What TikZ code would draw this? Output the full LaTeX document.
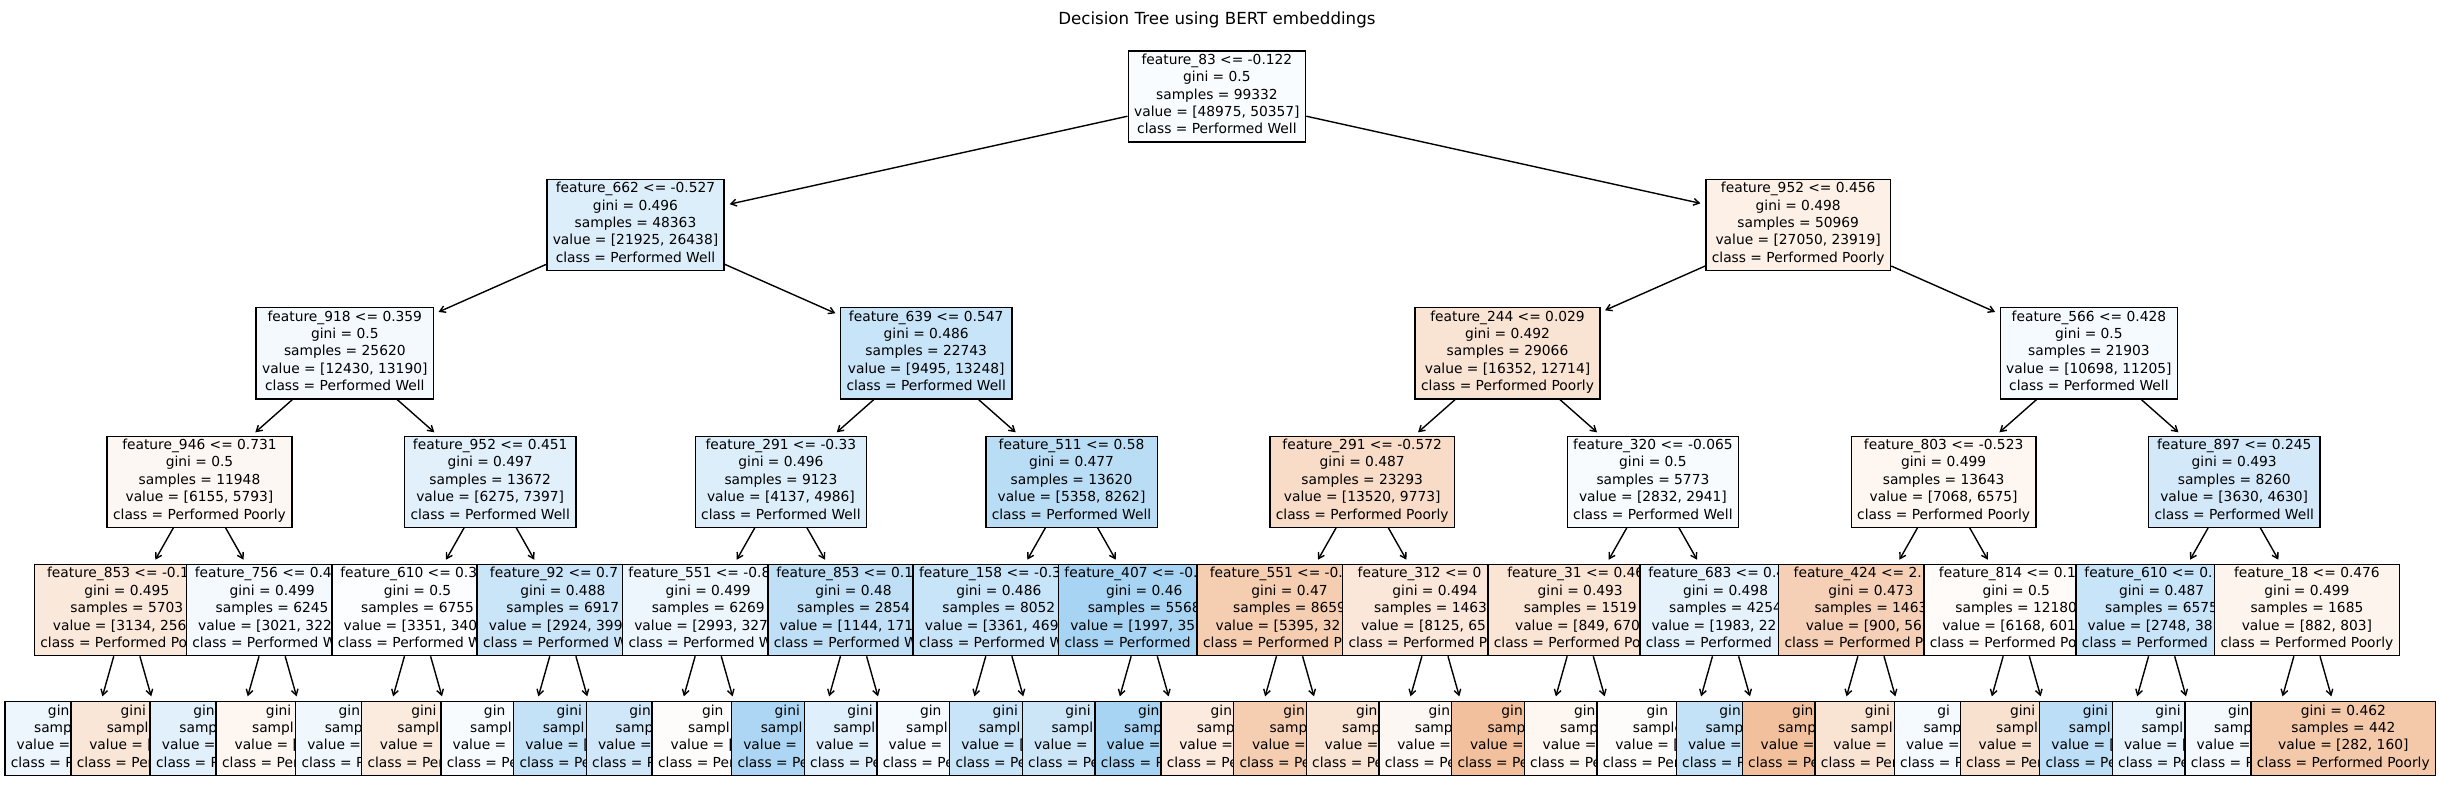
\documentclass[tikz,border=0pt]{standalone}
\usepackage{fontspec}
\setmainfont{DejaVu Sans}
\usepackage{tikz}
\usetikzlibrary{arrows.meta}
\definecolor{wellc}{RGB}{57,157,229}
\definecolor{poorc}{RGB}{229,129,57}
\newcommand{\partline}[2]{\rlap{#1}\phantom{#2}}
\newcommand{\leaflines}[5]{\partline{#1}{gini = 0.000}\\\partline{#2}{samples = 0000}\\\partline{#3}{value = [0000, 0000]}\\\partline{#4}{class = Performed #5}}

\begin{document}
\begin{tikzpicture}[x=0.5pt, y=-0.5pt,
    treebox/.style={draw, line width=0.7pt, align=center, inner xsep=3pt, inner ysep=1pt,
        font=\fontsize{6.9}{8.7}\selectfont, execute at begin node=\strut, execute at end node=\strut},
    splitbox/.style={treebox, minimum height=45.5pt},
    leafbox/.style={treebox, minimum height=36.8pt},
    branch/.style={line width=0.7pt, -{Straight Barb[length=2.8pt,width=3.4pt]}, shorten >=2.4pt}]
    \useasboundingbox (0,0) rectangle (2439,812);
    \node[font=\fontsize{8.33}{10}\selectfont, anchor=base] (title) at (1216.9,25) {Decision Tree using BERT embeddings};

    \node[splitbox, fill=wellc!3!white] (n1) at (1216.9,96.5) {feature\_83 <= -0.122\\gini = 0.5\\samples = 99332\\value = [48975, 50357]\\class = Performed Well};

    \node[splitbox, fill=wellc!17!white] (n2) at (635.5,224.9) {feature\_662 <= -0.527\\gini = 0.496\\samples = 48363\\value = [21925, 26438]\\class = Performed Well};
    \node[splitbox, fill=poorc!12!white] (n3) at (1798.2,224.9) {feature\_952 <= 0.456\\gini = 0.498\\samples = 50969\\value = [27050, 23919]\\class = Performed Poorly};

    \node[splitbox, fill=wellc!6!white] (n4) at (344.8,353.3) {feature\_918 <= 0.359\\gini = 0.5\\samples = 25620\\value = [12430, 13190]\\class = Performed Well};
    \node[splitbox, fill=wellc!28!white] (n5) at (926.2,353.3) {feature\_639 <= 0.547\\gini = 0.486\\samples = 22743\\value = [9495, 13248]\\class = Performed Well};
    \node[splitbox, fill=poorc!22!white] (n6) at (1507.5,353.3) {feature\_244 <= 0.029\\gini = 0.492\\samples = 29066\\value = [16352, 12714]\\class = Performed Poorly};
    \node[splitbox, fill=wellc!5!white] (n7) at (2088.9,353.3) {feature\_566 <= 0.428\\gini = 0.5\\samples = 21903\\value = [10698, 11205]\\class = Performed Well};

    \node[splitbox, fill=poorc!6!white] (n8) at (199.5,481.7) {feature\_946 <= 0.731\\gini = 0.5\\samples = 11948\\value = [6155, 5793]\\class = Performed Poorly};
    \node[splitbox, fill=wellc!15!white] (n9) at (490.2,481.7) {feature\_952 <= 0.451\\gini = 0.497\\samples = 13672\\value = [6275, 7397]\\class = Performed Well};
    \node[splitbox, fill=wellc!17!white] (n10) at (780.9,481.7) {feature\_291 <= -0.33\\gini = 0.496\\samples = 9123\\value = [4137, 4986]\\class = Performed Well};
    \node[splitbox, fill=wellc!35!white] (n11) at (1071.5,481.7) {feature\_511 <= 0.58\\gini = 0.477\\samples = 13620\\value = [5358, 8262]\\class = Performed Well};
    \node[splitbox, fill=poorc!28!white] (n12) at (1362.2,481.7) {feature\_291 <= -0.572\\gini = 0.487\\samples = 23293\\value = [13520, 9773]\\class = Performed Poorly};
    \node[splitbox, fill=wellc!4!white] (n13) at (1652.9,481.7) {feature\_320 <= -0.065\\gini = 0.5\\samples = 5773\\value = [2832, 2941]\\class = Performed Well};
    \node[splitbox, fill=poorc!7!white] (n14) at (1943.6,481.7) {feature\_803 <= -0.523\\gini = 0.499\\samples = 13643\\value = [7068, 6575]\\class = Performed Poorly};
    \node[splitbox, fill=wellc!22!white] (n15) at (2234.2,481.7) {feature\_897 <= 0.245\\gini = 0.493\\samples = 8260\\value = [3630, 4630]\\class = Performed Well};

    \node[splitbox, fill=poorc!18!white] (n16) at (126.8,610.1) {\partline{feature\_853 <= -0.1}{feature\_853 <= -0.100}\\gini = 0.495\\samples = 5703\\\partline{value = [3134, 256}{value = [3134, 2569]}\\\partline{class = Performed Po}{class = Performed Poorly}};
    \node[splitbox, fill=wellc!6!white] (n17) at (272.1,610.1) {\partline{feature\_756 <= 0.4}{feature\_756 <= 0.400}\\gini = 0.499\\samples = 6245\\\partline{value = [3021, 322}{value = [3021, 3224]}\\\partline{class = Performed W}{class = Performed Well}};
    \node[splitbox, fill=wellc!2!white] (n18) at (417.5,610.1) {\partline{feature\_610 <= 0.3}{feature\_610 <= 0.300}\\gini = 0.5\\samples = 6755\\\partline{value = [3351, 340}{value = [3351, 3404]}\\\partline{class = Performed W}{class = Performed Well}};
    \node[splitbox, fill=wellc!27!white] (n19) at (562.8,610.1) {\partline{feature\_92 <= 0.7}{feature\_92 <= 0.700}\\gini = 0.488\\samples = 6917\\\partline{value = [2924, 399}{value = [2924, 3993]}\\\partline{class = Performed W}{class = Performed Well}};
    \node[splitbox, fill=wellc!9!white] (n20) at (708.2,610.1) {\partline{feature\_551 <= -0.8}{feature\_551 <= -0.800}\\gini = 0.499\\samples = 6269\\\partline{value = [2993, 327}{value = [2993, 3276]}\\\partline{class = Performed W}{class = Performed Well}};
    \node[splitbox, fill=wellc!33!white] (n21) at (853.5,610.1) {\partline{feature\_853 <= 0.1}{feature\_853 <= 0.100}\\gini = 0.48\\samples = 2854\\\partline{value = [1144, 171}{value = [1144, 1710]}\\\partline{class = Performed W}{class = Performed Well}};
    \node[splitbox, fill=wellc!28!white] (n22) at (998.8,610.1) {\partline{feature\_158 <= -0.3}{feature\_158 <= -0.300}\\gini = 0.486\\samples = 8052\\\partline{value = [3361, 469}{value = [3361, 4691]}\\\partline{class = Performed W}{class = Performed Well}};
    \node[splitbox, fill=wellc!44!white] (n23) at (1144.2,610.1) {\partline{feature\_407 <= -0.}{feature\_407 <= -0.000}\\gini = 0.46\\samples = 5568\\\partline{value = [1997, 35}{value = [1997, 3571]}\\\partline{class = Performed }{class = Performed Well}};
    \node[splitbox, fill=poorc!40!white] (n24) at (1289.5,610.1) {\partline{feature\_551 <= -0.}{feature\_551 <= -0.000}\\gini = 0.47\\samples = 8659\\\partline{value = [5395, 32}{value = [5395, 3264]}\\\partline{class = Performed P}{class = Performed Poorly}};
    \node[splitbox, fill=poorc!19!white] (n25) at (1434.9,610.1) {\partline{feature\_312 <= 0}{feature\_312 <= 0.000}\\gini = 0.494\\\partline{samples = 1463}{samples = 14630}\\\partline{value = [8125, 65}{value = [8125, 6505]}\\\partline{class = Performed P}{class = Performed Poorly}};
    \node[splitbox, fill=poorc!21!white] (n26) at (1580.2,610.1) {\partline{feature\_31 <= 0.46}{feature\_31 <= 0.460}\\gini = 0.493\\samples = 1519\\\partline{value = [849, 670}{value = [849, 670]}\\\partline{class = Performed Po}{class = Performed Poorly}};
    \node[splitbox, fill=wellc!13!white] (n27) at (1725.5,610.1) {\partline{feature\_683 <= 0.4}{feature\_683 <= 0.400}\\gini = 0.498\\samples = 4254\\\partline{value = [1983, 22}{value = [1983, 2271]}\\\partline{class = Performed }{class = Performed Well}};
    \node[splitbox, fill=poorc!37!white] (n28) at (1870.9,610.1) {\partline{feature\_424 <= 2.}{feature\_424 <= 2.000}\\gini = 0.473\\samples = 1463\\\partline{value = [900, 56}{value = [900, 563]}\\\partline{class = Performed P}{class = Performed Poorly}};
    \node[splitbox, fill=poorc!3!white] (n29) at (2016.2,610.1) {\partline{feature\_814 <= 0.1}{feature\_814 <= 0.100}\\gini = 0.5\\samples = 12180\\\partline{value = [6168, 601}{value = [6168, 6012]}\\\partline{class = Performed Po}{class = Performed Poorly}};
    \node[splitbox, fill=wellc!28!white] (n30) at (2161.6,610.1) {\partline{feature\_610 <= 0.}{feature\_610 <= 0.000}\\gini = 0.487\\samples = 6575\\\partline{value = [2748, 38}{value = [2748, 3827]}\\\partline{class = Performed }{class = Performed Well}};
    \node[splitbox, fill=poorc!9!white] (n31) at (2306.9,610.1) {feature\_18 <= 0.476\\gini = 0.499\\samples = 1685\\value = [882, 803]\\class = Performed Poorly};

    \node[leafbox, fill=wellc!9!white] (n32) at (90.5,738.5) {\leaflines{gin}{samp}{value =}{class = P}{Well}};
    \node[leafbox, fill=poorc!20!white] (n33) at (163.2,738.5) {\leaflines{gini}{sampl}{value = [}{class = Per}{Poorly}};
    \node[leafbox, fill=wellc!15!white] (n34) at (235.8,738.5) {\leaflines{gin}{samp}{value =}{class = P}{Well}};
    \node[leafbox, fill=poorc!7!white] (n35) at (308.5,738.5) {\leaflines{gini}{sampl}{value = [}{class = Per}{Poorly}};
    \node[leafbox, fill=wellc!7!white] (n36) at (381.2,738.5) {\leaflines{gin}{samp}{value =}{class = P}{Well}};
    \node[leafbox, fill=poorc!16!white] (n37) at (453.9,738.5) {\leaflines{gini}{sampl}{value =}{class = Per}{Poorly}};
    \node[leafbox, fill=wellc!4!white] (n38) at (526.5,738.5) {\leaflines{gin}{sampl}{value =}{class = Pe}{Well}};
    \node[leafbox, fill=wellc!30!white] (n39) at (599.2,738.5) {\leaflines{gini}{sampl}{value = [}{class = Pe}{Well}};
    \node[leafbox, fill=wellc!24!white] (n40) at (671.9,738.5) {\leaflines{gini}{samp}{value =}{class = P}{Well}};
    \node[leafbox, fill=poorc!2!white] (n41) at (744.5,738.5) {\leaflines{gin}{sampl}{value = [}{class = Per}{Poorly}};
    \node[leafbox, fill=wellc!42!white] (n42) at (817.2,738.5) {\leaflines{gini}{sampl}{value =}{class = Pe}{Well}};
    \node[leafbox, fill=wellc!16!white] (n43) at (889.9,738.5) {\leaflines{gini}{sampl}{value =}{class = Pe}{Well}};
    \node[leafbox, fill=wellc!5!white] (n44) at (962.5,738.5) {\leaflines{gin}{sampl}{value =}{class = Pe}{Well}};
    \node[leafbox, fill=wellc!28!white] (n45) at (1035.2,738.5) {\leaflines{gini}{sampl}{value = [}{class = Pe}{Well}};
    \node[leafbox, fill=wellc!26!white] (n46) at (1107.9,738.5) {\leaflines{gini}{sampl}{value =}{class = Pe}{Well}};
    \node[leafbox, fill=wellc!44!white] (n47) at (1180.6,738.5) {\leaflines{gin}{samp}{value =}{class = P}{Well}};
    \node[leafbox, fill=poorc!17!white] (n48) at (1253.2,738.5) {\leaflines{gin}{samp}{value =}{class = Pe}{Poorly}};
    \node[leafbox, fill=poorc!40!white] (n49) at (1325.9,738.5) {\leaflines{gin}{samp}{value =}{class = Pe}{Poorly}};
    \node[leafbox, fill=poorc!22!white] (n50) at (1398.6,738.5) {\leaflines{gin}{samp}{value =}{class = Pe}{Poorly}};
    \node[leafbox, fill=poorc!6!white] (n51) at (1471.2,738.5) {\leaflines{gini}{samp}{value =}{class = Pe}{Poorly}};
    \node[leafbox, fill=poorc!50!white] (n52) at (1543.9,738.5) {\leaflines{gin}{samp}{value =}{class = Pe}{Poorly}};
    \node[leafbox, fill=poorc!7!white] (n53) at (1616.6,738.5) {\leaflines{gin}{samp}{value =}{class = Pe}{Poorly}};
    \node[leafbox, fill=poorc!2!white] (n54) at (1689.2,738.5) {\leaflines{gin}{sample}{value = [}{class = Per}{Poorly}};
    \node[leafbox, fill=wellc!30!white] (n55) at (1761.9,738.5) {\leaflines{gin}{samp}{value =}{class = P}{Well}};
    \node[leafbox, fill=poorc!50!white] (n56) at (1834.6,738.5) {\leaflines{gin}{samp}{value =}{class = Pe}{Poorly}};
    \node[leafbox, fill=poorc!22!white] (n57) at (1907.3,738.5) {\leaflines{gini}{sampl}{value =}{class = Per}{Poorly}};
    \node[leafbox, fill=wellc!5!white] (n58) at (1979.9,738.5) {\leaflines{gi}{sampl}{value =}{class = P}{Well}};
    \node[leafbox, fill=poorc!24!white] (n59) at (2052.6,738.5) {\leaflines{gini}{sampl}{value =}{class = Per}{Poorly}};
    \node[leafbox, fill=wellc!34!white] (n60) at (2125.3,738.5) {\leaflines{gini}{sampl}{value = [}{class = Pe}{Well}};
    \node[leafbox, fill=wellc!12!white] (n61) at (2197.9,738.5) {\leaflines{gini}{sampl}{value = [}{class = Pe}{Well}};
    \node[leafbox, fill=wellc!6!white] (n62) at (2270.6,738.5) {\leaflines{gin}{samp}{value =}{class = P}{Well}};
    \node[leafbox, fill=poorc!43!white] (n63) at (2343.3,738.5) {gini = 0.462\\samples = 442\\value = [282, 160]\\class = Performed Poorly};

    \foreach \k in {2,...,63} {
        \pgfmathtruncatemacro{\pk}{\k/2}
        \draw[branch] (n\pk) -- (n\k);
    }
\end{tikzpicture}
\end{document}
